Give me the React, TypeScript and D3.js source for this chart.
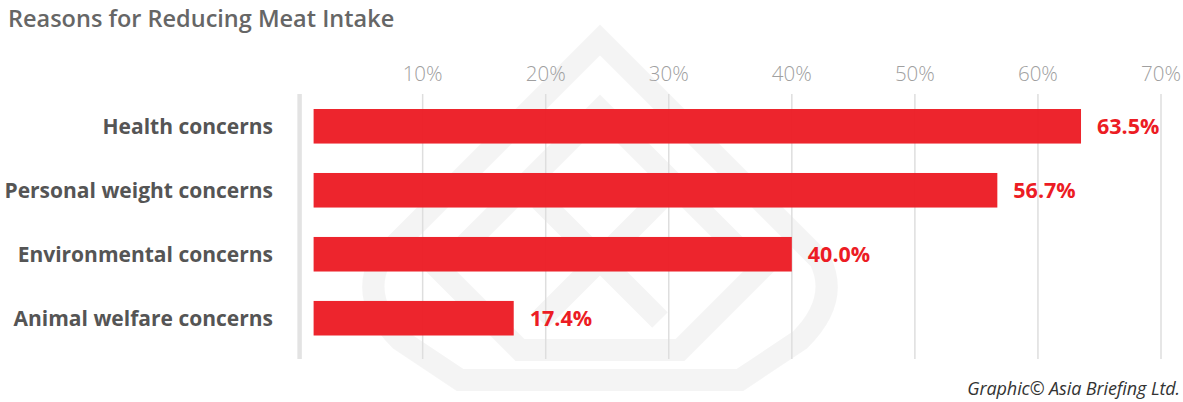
import React from "react";
import * as d3 from "d3";

const categories = ["Health concerns", "Personal weight concerns", "Environmental concerns", "Animal welfare concerns"];
const values = [63.5, 56.7, 40.0, 17.4];
const ticks = [10, 20, 30, 40, 50, 60, 70];

const W = 1183;
const H = 402;

export default function App() {
  const x = d3.scaleLinear().domain([0, 70]).range([299.6, 1161]);
  const y = d3.scaleBand().domain(categories).range([109, 109 + 3 * 64 + 34.5]).paddingInner(0.46).paddingOuter(0);
  const font = "'Open Sans', 'Noto Sans', sans-serif";
  const red = "#ec1c24";
  const barStart = x(0) + 14;

  return (
    <svg width={W} height={H} style={{ position: "absolute", left: 0, top: 0, background: "#fff" }}>
      {/* watermark */}
      <g fill="none" stroke="#000" strokeOpacity={0.045} strokeWidth={22} strokeLinejoin="miter">
        <path d="M600,40 L820,260 Q840,300 800,340 L740,380 L460,380 L400,340 Q360,300 380,260 Z" />
        <path d="M600,110 L760,270 L680,350 L520,350 L440,270 Z" />
        <path d="M540,200 L660,320 M660,200 L540,320" />
      </g>
      <text x={8} y={27} fontFamily={font} fontSize={23.5} fontWeight={600} fill="#666">
        Reasons for Reducing Meat Intake
      </text>
      {/* gridlines */}
      {ticks.map((t) => (
        <g key={t}>
          <line x1={x(t)} x2={x(t)} y1={94} y2={359} stroke="#dedede" strokeWidth={1.5} />
          <text x={x(t)} y={81} textAnchor="middle" fontFamily={font} fontSize={20.5} fontWeight={300} fill="#a0a0a0">
            {t}%
          </text>
        </g>
      ))}
      <line x1={x(0)} x2={x(0)} y1={94} y2={359} stroke="#e3e3e3" strokeWidth={4.5} />
      {categories.map((c, i) => (
        <g key={c}>
          <rect x={barStart} y={y(c)!} width={x(values[i]) - barStart} height={y.bandwidth()} fill={red} fillOpacity={0.96} />
          <text x={273} y={y(c)! + y.bandwidth() / 2 + 7.5} textAnchor="end" fontFamily={font} fontSize={21} fontWeight={700} fill="#555">
            {c}
          </text>
          <text x={x(values[i]) + 16} y={y(c)! + y.bandwidth() / 2 + 8} fontFamily={font} fontSize={21.5} fontWeight={700} fill={red}>
            {values[i].toFixed(1)}%
          </text>
        </g>
      ))}
      <text x={1180} y={395} textAnchor="end" fontFamily={font} fontSize={18} fontStyle="italic" fill="#333" letterSpacing={-0.1}>
        Graphic© Asia Briefing Ltd.
      </text>
    </svg>
  );
}
